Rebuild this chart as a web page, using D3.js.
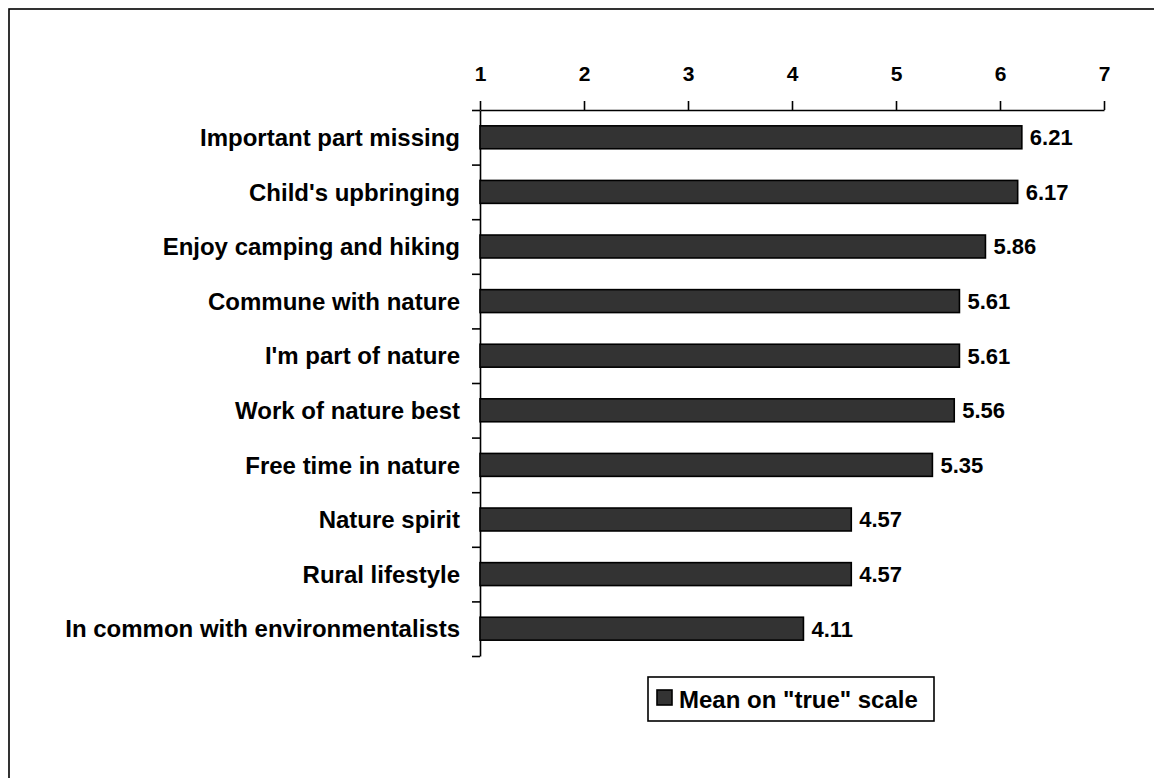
<!DOCTYPE html>
<html>
<head>
<meta charset="utf-8">
<script src="https://cdn.jsdelivr.net/npm/d3@7"></script>
<style>
  body { margin: 0; background: #fff; }
  svg { display: block; font-family: "Liberation Sans", Arial, sans-serif; font-weight: bold; }
</style>
</head>
<body>
<div id="chart"></div>
<script>
const width = 1154;
const height = 778;

// data
const categories = [
  "Important part missing",
  "Child's upbringing",
  "Enjoy camping and hiking",
  "Commune with nature",
  "I'm part of nature",
  "Work of nature best",
  "Free time in nature",
  "Nature spirit",
  "Rural lifestyle",
  "In common with environmentalists"
];
const means = [6.21, 6.17, 5.86, 5.61, 5.61, 5.56, 5.35, 4.57, 4.57, 4.11];
const tickValues = [1, 2, 3, 4, 5, 6, 7];
const seriesName = 'Mean on "true" scale';

const plotLeft = 480, plotRight = 1104;
const plotTop = 110, plotBottom = 656;
const barFrac = 0.42;

const svg = d3.select("#chart")
  .append("svg")
  .attr("width", width)
  .attr("height", height);

// outer frame (runs off the right and bottom edges)
svg.append("rect")
  .attr("x", 9).attr("y", 9)
  .attr("width", 1300).attr("height", 1000)
  .attr("fill", "none")
  .attr("stroke", "#000")
  .attr("stroke-width", 1.6);

const x = d3.scaleLinear().domain([1, 7]).range([plotLeft, plotRight]);
const y = d3.scaleBand().domain(categories).range([plotTop, plotBottom]).padding(0);
const yIdx = d3.scaleLinear().domain([0, categories.length]).range([plotTop, plotBottom]);

// top value axis
const xAxis = svg.append("g")
  .attr("transform", "translate(0," + plotTop + ")")
  .call(d3.axisTop(x)
    .tickValues(tickValues)
    .tickSize(9)
    .tickSizeOuter(0)
    .tickPadding(20)
    .tickFormat(d3.format("d")));
xAxis.selectAll("path, line").attr("stroke", "#000").attr("stroke-width", 1.6);
xAxis.selectAll("text")
  .attr("font-family", "'Liberation Sans', Arial, sans-serif")
  .attr("font-weight", "bold")
  .attr("font-size", "21px")
  .attr("fill", "#000");

// category axis: ticks sit between the bars
const yAxis = svg.append("g")
  .attr("transform", "translate(" + plotLeft + ",0)")
  .call(d3.axisLeft(yIdx)
    .tickValues(d3.range(categories.length + 1))
    .tickSize(8)
    .tickSizeOuter(0)
    .tickFormat(""));
yAxis.selectAll("path, line").attr("stroke", "#000").attr("stroke-width", 1.6);

// category labels
svg.append("g").selectAll("text")
  .data(categories)
  .join("text")
  .attr("x", 460)
  .attr("y", d => y(d) + y.bandwidth() / 2)
  .attr("dy", "0.36em")
  .attr("text-anchor", "end")
  .attr("font-size", "24px")
  .attr("fill", "#000")
  .text(d => d);

const bh = y.bandwidth() * barFrac;

// bars
svg.append("g").selectAll("rect")
  .data(means)
  .join("rect")
  .attr("x", x(1))
  .attr("y", (d, i) => y(categories[i]) + (y.bandwidth() - bh) / 2)
  .attr("width", d => x(d) - x(1))
  .attr("height", bh)
  .attr("fill", "#333333")
  .attr("stroke", "#000")
  .attr("stroke-width", 1.6);

// value labels
svg.append("g").selectAll("text")
  .data(means)
  .join("text")
  .attr("x", d => x(d) + 8)
  .attr("y", (d, i) => y(categories[i]) + y.bandwidth() / 2)
  .attr("dy", "0.36em")
  .attr("font-size", "22px")
  .attr("fill", "#000")
  .text(d => d3.format(".2f")(d));

// legend
const legend = svg.append("g").attr("transform", "translate(648,677)");
legend.append("rect")
  .attr("width", 286).attr("height", 44)
  .attr("fill", "#fff")
  .attr("stroke", "#000")
  .attr("stroke-width", 1.6);
legend.append("rect")
  .attr("x", 9).attr("y", 13)
  .attr("width", 15).attr("height", 15)
  .attr("fill", "#333333")
  .attr("stroke", "#000")
  .attr("stroke-width", 1.6);
legend.append("text")
  .attr("x", 31).attr("y", 22)
  .attr("dy", "0.36em")
  .attr("font-size", "24px")
  .attr("fill", "#000")
  .text(seriesName);
</script>
</body>
</html>
